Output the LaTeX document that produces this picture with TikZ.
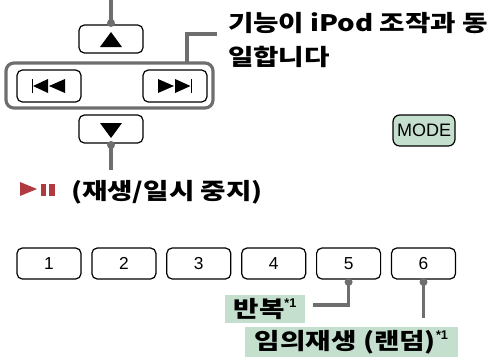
\documentclass[tikz,border=0pt]{standalone}
\usepackage{fontspec}
\setmainfont{Liberation Sans}
\newfontfamily\kr{Noto Sans CJK KR}[FakeStretch=1.22]
\usetikzlibrary{calc}
\definecolor{lg}{HTML}{6E6E6E}
\definecolor{gfill}{HTML}{C4DFCD}
\definecolor{pr}{HTML}{B03A40}
\begin{document}
\begin{tikzpicture}[x=0.75pt,y=-0.75pt,
  every node/.style={inner sep=0pt, outer sep=0pt},
  btn/.style={draw=black, line width=0.9pt, rounded corners=4pt, fill=white},
  grpbox/.style={draw=lg, line width=2.4pt, rounded corners=6pt},
  conn/.style={draw=lg, line width=2.4pt},
  dot/.style={circle, fill=lg, minimum size=6pt},
  krb/.style={font=\kr\bfseries\fontsize{17}{20}\selectfont},
  numtxt/.style={font=\fontsize{13}{15}\selectfont},
  lab/.style={fill=gfill, font=\kr\bfseries\fontsize{17}{20}\selectfont},
  suptxt/.style={}
]
\useasboundingbox (0,0) rectangle (492,358);

% group of prev/next
\node[grpbox, minimum width=155.25pt, minimum height=33.75pt] (grp) at (109.5,85.5) {};

% buttons
\node[btn, minimum width=48pt, minimum height=21pt] (up) at (111,39) {};
\node[btn, minimum width=48pt, minimum height=21pt] (down) at (111,129) {};
\node[btn, minimum width=48pt, minimum height=24pt] (prev) at (49,86) {};
\node[btn, minimum width=48pt, minimum height=24pt] (next) at (175,86) {};

% glyphs
\fill[shift={(up.center)}] (-11,8) -- (11,8) -- (0,-7) -- cycle;
\fill[shift={(down.center)}] (-11,-6) -- (11,-6) -- (0,9) -- cycle;
\begin{scope}[shift={(prev.center)}]
  \fill (-17.2,-7) rectangle (-15.6,7);
  \fill (-16,0) -- (-1,-7) -- (-1,7) -- cycle;
  \fill (0,0) -- (16,-7) -- (16,7) -- cycle;
\end{scope}
\begin{scope}[shift={(next.center)}]
  \fill (-17,-7) -- (-17,7) -- (-1,0) -- cycle;
  \fill (0,-7) -- (0,7) -- (15.5,0) -- cycle;
  \fill (15.6,-7) rectangle (17.2,7);
\end{scope}

% top connector
\coordinate (topend) at (111,0);
\node[dot] (dup) at ($(up.north)+(0,-2)$) {};
\draw[conn] (topend) -- (dup.center);
% bottom connector
\coordinate (botend) at (111,170);
\node[dot] (ddown) at ($(down.south)+(0,2)$) {};
\draw[conn] (ddown.center) -- (botend);

% group label
\coordinate (g1) at (187,63);
\coordinate (tip) at (217,34);
\draw[conn] (g1) |- (tip);
\node[krb, anchor=base west] (t1) at (228,31) {기능이 iPod 조작과 동};
\node[krb, anchor=base west] (t2) at (228,65) {일합니다};

% MODE
\node[btn, fill=gfill, rounded corners=5pt, minimum width=46.5pt, minimum height=23.25pt, font=\fontsize{13.5}{15}\selectfont] (mode) at (424,130.5) {MODE};

% play/pause
\fill[pr] (20,182) -- (37,189) -- (20,196) -- cycle;
\fill[pr] (41,184) rectangle (46,196);
\fill[pr] (49,184) rectangle (54.5,196);
\node[krb, anchor=base west] (pp) at (71,199) {(재생/일시 중지)};

% number buttons
\foreach \i in {1,...,6}
  \node[btn, numtxt, minimum width=48pt, minimum height=23.25pt] (n\i) at ({49+74.9*(\i-1)},263.5) {\i};

% labels
\node[lab, minimum width=60pt, minimum height=21pt] (rep) at (265,309)
  {반복\raisebox{0.45em}{\fontsize{9.5}{9}\selectfont\rmfamily *1}};
\node[lab, minimum width=159.75pt, minimum height=22.5pt] (shuf) at (351.5,342)
  {임의재생 (랜덤)\raisebox{0.45em}{\fontsize{9.5}{9}\selectfont\rmfamily *1}};

% connectors 5 and 6
\node[dot] (d5) at ($(n5.south)+(0,3)$) {};
\coordinate (r5) at (313,305);
\draw[conn] (d5.center) |- (r5);
\node[dot] (d6) at ($(n6.south)+(0,3)$) {};
\coordinate (r6) at (423,318);
\draw[conn] (d6.center) -- (d6.center |- r6);
\end{tikzpicture}
\end{document}
